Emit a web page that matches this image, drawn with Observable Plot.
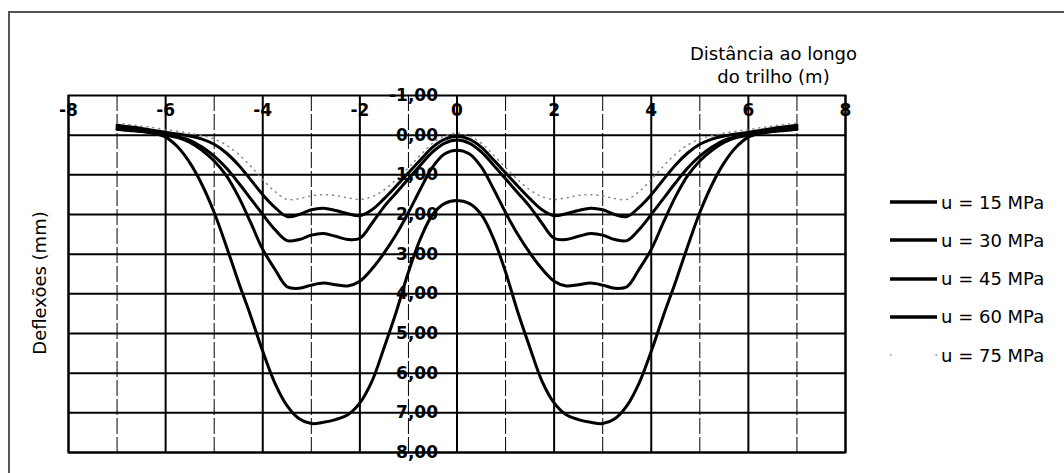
<!DOCTYPE html>
<html>
<head>
<meta charset="utf-8">
<script src="https://cdn.jsdelivr.net/npm/d3@7"></script>
<script src="https://cdn.jsdelivr.net/npm/@observablehq/plot@0.6"></script>
<style>
  body { margin: 0; background: #fff; }
  #wrap { position: relative; width: 1064px; height: 473px; overflow: hidden; font-family: "DejaVu Sans", sans-serif; }
  #border { position: absolute; left: 8px; top: 11px; width: 1060px; height: 470px; border-left: 2px solid #555; border-top: 2px solid #555; }
  #chart { position: absolute; left: 0; top: 0; }
  .leg { position: absolute; left: 888px; height: 24px; display: flex; align-items: center; font-size: 18px; color: #000; white-space: nowrap; }
  .leg svg { margin-right: 3px; }
</style>
</head>
<body>
<div id="wrap">
  <div id="border"></div>
  <div id="chart"></div>
</div>
<script>
// Distance along the rail (m)
const xs = [-7,-6.75,-6.5,-6.25,-6,-5.75,-5.5,-5.25,-5,-4.75,-4.5,-4.25,-4,-3.75,-3.5,-3.25,-3,-2.75,-2.5,-2.25,-2,-1.75,-1.5,-1.25,-1,-0.75,-0.5,-0.25,
            0,0.25,0.5,0.75,1,1.25,1.5,1.75,2,2.25,2.5,2.75,3,3.25,3.5,3.75,4,4.25,4.5,4.75,5,5.25,5.5,5.75,6,6.25,6.5,6.75,7];

// Deflections (mm) per foundation modulus
const u15 = [-0.15,-0.13,-0.1,-0.05,0.05,0.3,0.7,1.25,1.95,2.8,3.7,4.55,5.45,6.25,6.82,7.15,7.27,7.24,7.17,7.05,6.75,6.2,5.35,4.45,3.45,2.6,2.0,1.72,
             1.65,1.72,2.0,2.6,3.45,4.45,5.35,6.2,6.75,7.05,7.17,7.24,7.27,7.15,6.82,6.25,5.45,4.55,3.7,2.8,1.95,1.25,0.7,0.3,0.05,-0.05,-0.1,-0.13,-0.15];
const u30 = [-0.15,-0.12,-0.09,-0.05,0.0,0.06,0.18,0.38,0.65,1.02,1.55,2.2,2.88,3.38,3.82,3.86,3.78,3.73,3.77,3.8,3.68,3.37,2.97,2.5,1.95,1.35,0.8,0.47,
             0.38,0.47,0.8,1.35,1.95,2.5,2.97,3.37,3.68,3.8,3.77,3.73,3.78,3.86,3.82,3.38,2.88,2.2,1.55,1.02,0.65,0.38,0.18,0.06,0.0,-0.05,-0.09,-0.12,-0.15];
const u45 = [-0.2,-0.17,-0.13,-0.08,-0.02,0.04,0.13,0.3,0.53,0.83,1.2,1.6,2.0,2.38,2.66,2.63,2.52,2.48,2.55,2.63,2.6,2.22,1.8,1.45,1.1,0.75,0.42,0.2,
             0.12,0.2,0.42,0.75,1.1,1.45,1.8,2.22,2.6,2.63,2.55,2.48,2.52,2.63,2.66,2.38,2.0,1.6,1.2,0.83,0.53,0.3,0.13,0.04,-0.02,-0.08,-0.13,-0.17,-0.2];
const u60 = [-0.25,-0.21,-0.17,-0.12,-0.07,-0.03,0.02,0.1,0.23,0.45,0.75,1.12,1.5,1.82,2.05,2.0,1.88,1.84,1.9,1.98,2.03,1.88,1.6,1.28,0.95,0.62,0.3,0.1,
             0.03,0.1,0.3,0.62,0.95,1.28,1.6,1.88,2.03,1.98,1.9,1.84,1.88,2.0,2.05,1.82,1.5,1.12,0.75,0.45,0.23,0.1,0.02,-0.03,-0.07,-0.12,-0.17,-0.21,-0.25];
const u75 = [-0.3,-0.27,-0.23,-0.19,-0.14,-0.1,-0.05,0.01,0.1,0.25,0.48,0.78,1.12,1.42,1.62,1.6,1.53,1.5,1.52,1.58,1.62,1.55,1.38,1.12,0.82,0.5,0.2,0.02,
             -0.05,0.02,0.2,0.5,0.82,1.12,1.38,1.55,1.62,1.58,1.52,1.5,1.53,1.6,1.62,1.42,1.12,0.78,0.48,0.25,0.1,0.01,-0.05,-0.1,-0.14,-0.19,-0.23,-0.27,-0.3];

const seriesNames = ["u = 15 MPa", "u = 30 MPa", "u = 45 MPa", "u = 60 MPa", "u = 75 MPa"];
const seriesValues = [u15, u30, u45, u60, u75];

// Axis ticks
const xTicks = [-8, -6, -4, -2, 0, 2, 4, 6, 8];
const xMinorTicks = [-7, -5, -3, -1, 1, 3, 5, 7];
const yTicks = [-1, 0, 1, 2, 3, 4, 5, 6, 7, 8];
const yTickLabels = ["-1,00", "0,00", "1,00", "2,00", "3,00", "4,00", "5,00", "6,00", "7,00", "8,00"];
const xTitle = "Distância ao longo\ndo trilho (m)";
const yTitle = "Deflexões (mm)";

const rows = [];
seriesValues.forEach((vals, k) => {
  xs.forEach((x, i) => rows.push({x, y: vals[i], s: seriesNames[k]}));
});
const solid = rows.filter(d => d.s !== seriesNames[4]);
const dotted = rows.filter(d => d.s === seriesNames[4]);

const chart = Plot.plot({
  width: 1064,
  height: 473,
  marginLeft: 68,
  marginRight: 219,
  marginTop: 95,
  marginBottom: 21,
  style: {fontFamily: "DejaVu Sans", fontSize: "17px", background: "transparent", overflow: "visible"},
  x: {domain: [-8, 8], axis: null},
  y: {domain: [-1, 8], reverse: true, axis: null},
  marks: [
    Plot.ruleX(xMinorTicks, {stroke: "#000", strokeWidth: 1, strokeDasharray: "16,3"}),
    Plot.ruleY(yTicks.slice(1), {stroke: "#000", strokeWidth: 2}),
    Plot.ruleX(xTicks, {stroke: "#000", strokeWidth: 2}),
    Plot.frame({stroke: "#000", strokeWidth: 2}),
    Plot.line(solid, {x: "x", y: "y", z: "s", stroke: "#000", strokeWidth: 3, curve: "catmull-rom"}),
    Plot.line(dotted, {x: "x", y: "y", stroke: "#888", strokeWidth: 1.5, strokeDasharray: "1,5", curve: "catmull-rom"}),
    Plot.text(xTicks, {x: d => d, y: -1, dy: 15, text: d => String(d), fontWeight: "bold", fontSize: 17, fill: "#000"}),
    Plot.text(yTicks, {x: 0, y: d => d, dx: -19, text: (d, i) => yTickLabels[i], textAnchor: "end", fontWeight: "bold", fontSize: 17, fill: "#000"}),
    Plot.text([yTitle], {frameAnchor: "left", dx: -28, dy: 9, rotate: -90, textAnchor: "middle", text: d => d, fontSize: 18, fill: "#000"}),
    Plot.text([xTitle], {frameAnchor: "top-right", dx: -72, dy: -31, text: d => d, textAnchor: "middle", lineAnchor: "middle", lineHeight: 1.28, fontSize: 18, fill: "#000"})
  ]
});
document.getElementById("chart").appendChild(chart);

// Legend
const wrap = document.getElementById("wrap");
seriesNames.forEach((name, k) => {
  const div = document.createElement("div");
  div.className = "leg";
  div.style.top = (202 - 12 + k * 38.3) + "px";
  const isDot = k === 4;
  div.innerHTML = `<svg width="50" height="10"><line x1="2" y1="5" x2="49" y2="5" stroke="${isDot ? "#888" : "#000"}" stroke-width="${isDot ? 1.5 : 3.5}" ${isDot ? 'stroke-dasharray="1.5,44"' : ''}/></svg><span>${name}</span>`;
  wrap.appendChild(div);
});
</script>
</body>
</html>
